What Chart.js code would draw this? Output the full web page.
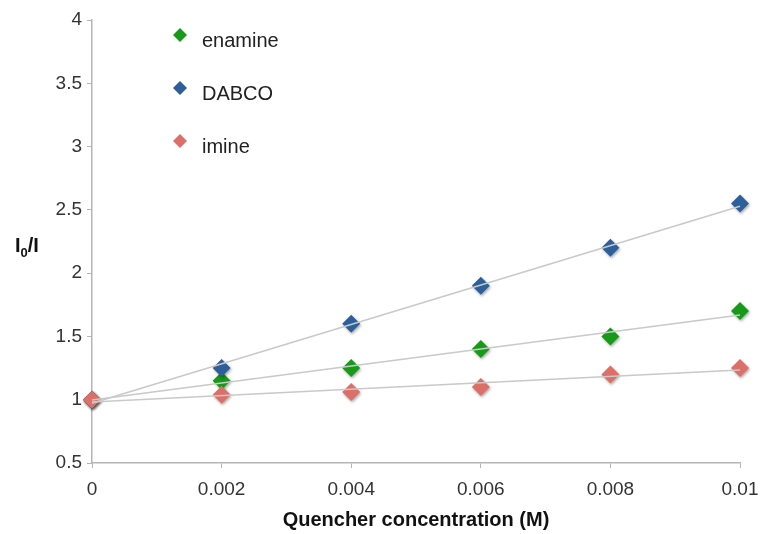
<!DOCTYPE html>
<html lang="en">
<head>
<meta charset="UTF-8">
<title>Stern-Volmer quenching</title>
<script src="https://cdn.jsdelivr.net/npm/chart.js"></script>
<style>
  html, body { margin: 0; padding: 0; background: #fff; }
</style>
</head>
<body>
<canvas id="sv" width="762" height="534"></canvas>
<script>
// data
const concentrations = [0, 0.002, 0.004, 0.006, 0.008, 0.01];
const enamine = [1.0, 1.15, 1.25, 1.4, 1.5, 1.7];
const dabco = [1.0, 1.25, 1.6, 1.9, 2.2, 2.55];
const imine = [1.0, 1.04, 1.06, 1.1, 1.2, 1.25];

const xTickLabels = ['0', '0.002', '0.004', '0.006', '0.008', '0.01'];
const yTickLabels = ['0.5', '1', '1.5', '2', '2.5', '3', '3.5', '4'];

const seriesNames = ['enamine', 'DABCO', 'imine'];
const seriesValues = [enamine, dabco, imine];
const seriesColors = ['#169a17', '#2d5f9b', '#dd6f69'];

const FONT = "'Liberation Sans', Arial, Helvetica, sans-serif";

// least squares line, like the spreadsheet trendline
function linearFit(xs, ys) {
    const n = xs.length;
    const mx = xs.reduce((a, b) => a + b, 0) / n;
    const my = ys.reduce((a, b) => a + b, 0) / n;
    let sxy = 0, sxx = 0;
    xs.forEach((x, i) => { sxy += (x - mx) * (ys[i] - my); sxx += (x - mx) * (x - mx); });
    const slope = sxy / sxx;
    const icpt = my - slope * mx;
    return [xs[0], xs[n - 1]].map(x => ({ x: x, y: icpt + slope * x }));
}

const pointSets = seriesNames.map((name, i) => ({
    type: 'scatter',
    label: name,
    data: concentrations.map((x, j) => ({ x: x, y: seriesValues[i][j] })),
    pointStyle: 'rectRot',
    pointRadius: 9,
    pointHoverRadius: 9,
    backgroundColor: seriesColors[i],
    borderColor: seriesColors[i],
    borderWidth: 0,
    clip: false,
    order: 3 - i
}));

const trendSets = seriesNames.map((name, i) => ({
    type: 'line',
    label: name + ' fit',
    data: linearFit(concentrations, seriesValues[i]),
    borderColor: '#c9c9c9',
    borderWidth: 1.5,
    pointRadius: 0,
    fill: false,
    clip: false,
    order: 0
}));

const shadows = {
    id: 'shadows',
    beforeDatasetDraw(chart, args) {
        if (args.meta.type === 'scatter') {
            const ctx = chart.ctx;
            ctx.save();
            ctx.shadowColor = 'rgba(0,0,0,0.35)';
            ctx.shadowBlur = 3;
            ctx.shadowOffsetX = 1;
            ctx.shadowOffsetY = 1.5;
        }
    },
    afterDatasetDraw(chart, args) {
        if (args.meta.type === 'scatter') chart.ctx.restore();
    }
};

function diamond(ctx, x, y, r, color) {
    ctx.beginPath();
    ctx.moveTo(x, y - r);
    ctx.lineTo(x + r, y);
    ctx.lineTo(x, y + r);
    ctx.lineTo(x - r, y);
    ctx.closePath();
    ctx.fillStyle = color;
    ctx.fill();
}

const labels = {
    id: 'labels',
    afterDraw(chart) {
        const ctx = chart.ctx;
        const area = chart.chartArea;
        ctx.save();

        // x axis title
        ctx.font = 'bold 20px ' + FONT;
        ctx.fillStyle = '#111';
        ctx.textAlign = 'center';
        ctx.textBaseline = 'middle';
        ctx.fillText('Quencher concentration (M)', (area.left + area.right) / 2, 520);

        // y axis title: I0/I with subscript
        ctx.textAlign = 'left';
        ctx.textBaseline = 'alphabetic';
        let x = 15;
        const base = 252;
        ctx.font = 'bold 20px ' + FONT;
        ctx.fillText('I', x, base);
        x += ctx.measureText('I').width;
        ctx.font = 'bold 13px ' + FONT;
        ctx.fillText('0', x, base + 5);
        x += ctx.measureText('0').width;
        ctx.font = 'bold 20px ' + FONT;
        ctx.fillText('/I', x, base);

        // legend inside the plot
        ctx.font = '20px ' + FONT;
        seriesNames.forEach((name, i) => {
            const y = area.top + 15 + i * 53;
            diamond(ctx, area.left + 88, y, 7, seriesColors[i]);
            ctx.fillStyle = '#222';
            ctx.fillText(name, area.left + 110, y + 12);
        });
        ctx.restore();
    }
};

new Chart(document.getElementById('sv'), {
    type: 'scatter',
    data: { datasets: [...pointSets, ...trendSets] },
    options: {
        responsive: false,
        animation: false,
        layout: { padding: { top: 20, right: 22, left: 0, bottom: 0 } },
        plugins: {
            legend: { display: false },
            tooltip: { enabled: false }
        },
        scales: {
            x: {
                type: 'linear',
                min: 0,
                max: 0.01,
                afterFit: s => { s.height = 71; s.paddingLeft = 0; s.paddingRight = 0; },
                border: { color: '#b5b5b5', width: 1.5 },
                grid: { drawOnChartArea: false, drawTicks: true, tickLength: 5, color: '#b5b5b5' },
                ticks: {
                    stepSize: 0.002,
                    padding: 10,
                    color: '#333',
                    font: { family: FONT, size: 19 },
                    maxRotation: 0,
                    callback: (v, i) => xTickLabels[i]
                }
            },
            y: {
                min: 0.5,
                max: 4,
                afterFit: s => { s.width = 92; },
                border: { color: '#b5b5b5', width: 1.5 },
                grid: { drawOnChartArea: false, drawTicks: true, tickLength: 5, color: '#b5b5b5' },
                ticks: {
                    stepSize: 0.5,
                    padding: 5,
                    color: '#333',
                    font: { family: FONT, size: 19 },
                    callback: (v, i) => yTickLabels[i]
                }
            }
        }
    },
    plugins: [shadows, labels]
});
</script>
</body>
</html>
